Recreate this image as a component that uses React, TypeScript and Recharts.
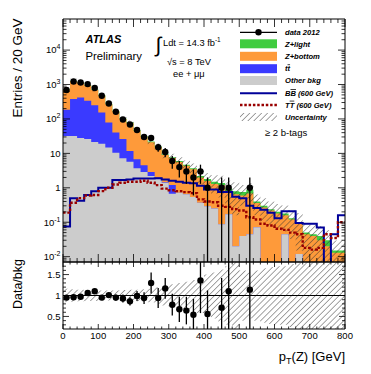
import React from 'react'
import { ComposedChart, Area, Line, Scatter, ErrorBar, XAxis, YAxis, ReferenceLine } from 'recharts'

const FONT = '"Liberation Sans", Arial, Helvetica, sans-serif'

// 20 GeV bins, low edges
const binLow = [0, 20, 40, 60, 80, 100, 120, 140, 160, 180, 200, 220, 240, 260, 280, 300, 320, 340, 360, 380,
    400, 420, 440, 460, 480, 500, 520, 540, 560, 580, 600, 620, 640, 660, 680, 700, 720, 740, 760, 780]

// backgrounds (stack order bottom -> top)
const otherBkg = [32, 32, 28, 26, 21.5, 19, 14.7, 10.4, 7.2, 5.7, 3.7, 2.9, 2.2, 1.8, 1.4, 0.67, 0.72, 0.65, 0.54, 0.37,
    0.29, 0.25, 0.087, 0.17, 0.02, 0.04, 0.045, 0.071, 0, 0, 0, 0.045, 0, 0.012, 0, 0, 0, 0, 0, 0]
const ttbar = [153, 348, 392, 314, 228, 135, 64, 30, 19, 6, 3, 1.6, 0.7, 0.2, 0.05, 0.53, 0, 0, 0, 0,
    0, 0, 0, 0, 0, 0, 0, 0, 0, 0, 0, 0, 0, 0, 0, 0, 0, 0, 0, 0]
const zBottom = [518, 855, 725, 595, 445, 323, 188, 124, 73, 65, 39, 26, 18.1, 13.2, 7.5, 6.1, 4.9, 3.75, 2.9, 1.63,
    1.3, 1.05, 1.1, 0.63, 0.63, 0.56, 0.64, 0.29, 0.27, 0.22, 0.18, 0.115, 0.12, 0.078, 0.045, 0.04, 0.03, 0.02, 0.013, 0.013]
const zLight = [25, 45, 40, 35, 25, 18, 10, 6, 4, 3, 2, 1.4, 1, 0.8, 0.5, 0.4, 0.35, 0.3, 0.25, 0.2,
    0.2, 0.2, 0.2, 0.15, 0.15, 0.15, 0.2, 0.04, 0.03, 0.02, 0.02, 0.02, 0.01, 0.01, 0.005, 0.005, 0.01, 0.01, 0.002, 0.002]
// relative syst. uncertainty (half width)
const relUnc = [0.16, 0.15, 0.14, 0.13, 0.13, 0.12, 0.12, 0.12, 0.13, 0.14, 0.14, 0.15, 0.16, 0.2, 0.24, 0.27, 0.3, 0.33, 0.37, 0.42,
    0.5, 0.55, 0.62, 0.7, 0.8, 0.6, 0.55, 0.6, 0.65, 0.68, 0.7, 0.7, 0.75, 0.85, 0.9, 0.9, 0.9, 0.95, 0.95, 0.95]

// signals
const bbSignal = [0.075, 0.5, 0.42, 0.62, 0.8, 1.0, 1.0, 1.7, 1.7, 1.75, 1.85, 1.85, 1.85, 1.9, 1.75, 1.6, 1.5, 1.4, 1.35, 1.15,
    0.9, 0.9, 0.75, 0.75, 0.55, 0.5, 0.3, 0.26, 0.23, 0.19, 0.13, 0.21, 0.21, 0.095, 0.09, 0.09, 0.07, 0, 0.045, 0.16]
const ttSignal = [0.19, 0.37, 0.5, 0.6, 0.62, 0.8, 1.0, 1.25, 1.4, 1.5, 1.5, 1.6, 1.4, 1.2, 0.95, 0.85, 0.8, 0.75, 0.7, 0.46,
    0.4, 0.38, 0.3, 0.28, 0.24, 0.22, 0.14, 0.12, 0.09, 0.08, 0.065, 0.06, 0.05, 0.045, 0.018, 0.016, 0.018, 0.045, 0.035, 0.1]

// data 2012
const dataCounts = [692, 1230, 1150, 1030, 790, 470, 280, 162, 96, 69, 48, 30, 28, 15, 11, 6, 4, 3, 2, 3,
    1, null, 1, 1, null, null, 1, null, null, null, null, null, null, null, null, null, null, null, null, null]
const dataErr = [26, 35, 34, 32, 28, 22, 17, 13, 10, 8.3, 6.9, 5.5, 5.3, 3.9, 3.3, 2.4, 2, 1.7, 1.4, 1.7,
    1, null, 1, 1, null, null, 1, null, null, null, null, null, null, null, null, null, null, null, null, null]
const ratioVals = [0.95, 0.96, 0.97, 1.06, 1.1, 0.95, 1.01, 0.95, 0.93, 0.86, 0.99, 0.94, 1.3, 0.94, 1.17, 0.78, 0.67, 0.64, 0.54, 1.36,
    0.56, null, 0.71, 1.1, null, null, 1.14, null, null, null, null, null, null, null, null, null, null, null, null, null]
const ratioErr = [0.04, 0.03, 0.03, 0.035, 0.04, 0.045, 0.06, 0.075, 0.095, 0.1, 0.12, 0.14, 0.25, 0.24, 0.25, 0.26, 0.3, 0.33, 0.38, 0.78,
    0.56, null, 0.71, 1.1, null, null, 1.14, null, null, null, null, null, null, null, null, null, null, null, null, null]

// axis ticks / labels
const xLabels = [0, 100, 200, 300, 400, 500, 600, 700, 800]
const logMajor = [0.01, 0.1, 1, 10, 100, 1000, 10000]
const logExp = ['-2', '-1', '', '', '2', '3', '4']
const ratioMajor = [0.5, 1, 1.5]
const ratioLabels = ['0.5', '1', '1.5']

const Y_MIN = 0.007
const Y_MAX = 80000
const R_MIN = 0.2
const R_MAX = 1.8
const TINY = 1e-5

const colors = {
    zlight: '#3fcc3f',
    zbottom: '#fe9a3a',
    ttbar: '#3a3aff',
    other: '#cccccc',
    bb: '#000099',
    tt: '#990000',
}

const pos = (v: number) => (v > TINY ? v : TINY)

const histRows = [...binLow, 800].map((x, k) => {
    const i = Math.min(k, binLow.length - 1)
    const gray = otherBkg[i]
    const blue = gray + ttbar[i]
    const orange = blue + zBottom[i]
    const green = orange + zLight[i]
    return {
        x,
        gray: pos(gray),
        blue: pos(blue),
        orange: pos(orange),
        green: pos(green),
        unc: [pos(green * (1 - relUnc[i])), green * (1 + relUnc[i])],
        band: [1 - relUnc[i], 1 + relUnc[i]],
        bb: pos(bbSignal[i]),
        tt: pos(ttSignal[i]),
    }
})

// error bars are cut at the frame edges (log axis cannot show 0)
const dataPts = binLow.flatMap((lo, i) => {
    const n = dataCounts[i]
    const e = dataErr[i]
    if (n == null || e == null) return []
    return [{ x: lo + 10, y: n, err: [Math.min(e, n - Y_MIN), e] }]
})

const ratioPts = binLow.flatMap((lo, i) => {
    const r = ratioVals[i]
    const e = ratioErr[i]
    if (r == null || e == null) return []
    return [{ x: lo + 10, y: r, err: [Math.min(e, r - R_MIN), Math.min(e, R_MAX - r)] }]
})

const xTicks: number[] = []
for (let v = 0; v <= 800; v += 20) xTicks.push(v)

const logTicks: number[] = []
for (let k = -3; k <= 4; k++) {
    for (let m = 1; m <= 9; m++) {
        const v = m * Math.pow(10, k)
        if (v > Y_MIN * 1.001 && v < Y_MAX * 0.999) logTicks.push(v)
    }
}

const ratioTicks: number[] = []
for (let k = 3; k <= 17; k++) ratioTicks.push(k / 10)

const isDecade = (v: number) => Math.abs(Math.log10(v) - Math.round(Math.log10(v))) < 1e-6
const isRatioMajor = (v: number) => ratioMajor.some(m => Math.abs(m - v) < 1e-6)

const tk = (x1: number, y1: number, x2: number, y2: number) => (
    <line x1={x1} y1={y1} x2={x2} y2={y2} stroke="#000" strokeWidth={0.8} />
)

function LogLeftTick(props: any) {
    const { x, y, payload } = props
    const v = payload.value
    const major = isDecade(v)
    const idx = logMajor.findIndex(m => Math.abs(Math.log10(m) - Math.log10(v)) < 1e-6)
    return (
        <g>
            {tk(x, y, x + (major ? 7 : 3.5), y)}
            {idx >= 0 && (
                <text x={x - 2.5} y={y + 3.3} textAnchor="end" fontFamily={FONT} fontSize={9.5} fill="#000">
                    {v === 1 ? '1' : '10'}
                    {logExp[idx] && <tspan dy={-4} fontSize={7}>{logExp[idx]}</tspan>}
                </text>
            )}
        </g>
    )
}

function LogRightTick(props: any) {
    const { x, y, payload } = props
    const major = isDecade(payload.value)
    return <g>{tk(x, y, x - (major ? 7 : 3.5), y)}</g>
}

function MainBottomTick(props: any) {
    const { x, y, payload } = props
    const major = payload.value % 100 === 0
    return <g>{tk(x, y, x, y - (major ? 8 : 4))}</g>
}

function MainTopTick(props: any) {
    const { x, y, payload } = props
    const major = payload.value % 100 === 0
    return <g>{tk(x, y, x, y + (major ? 8 : 4))}</g>
}

function RatioBottomTick(props: any) {
    const { x, y, payload } = props
    const major = payload.value % 100 === 0
    const lab = xLabels.includes(payload.value)
    return (
        <g>
            {tk(x, y, x, y - (major ? 5 : 2.5))}
            {lab && (
                <text x={x} y={y + 10} textAnchor="middle" fontFamily={FONT} fontSize={9.5} fill="#000">
                    {payload.value}
                </text>
            )}
        </g>
    )
}

function RatioTopTick(props: any) {
    const { x, y, payload } = props
    const major = payload.value % 100 === 0
    return <g>{tk(x, y, x, y + (major ? 5 : 2.5))}</g>
}

function RatioLeftTick(props: any) {
    const { x, y, payload } = props
    const v = payload.value
    const major = isRatioMajor(v)
    const idx = ratioMajor.findIndex(m => Math.abs(m - v) < 1e-6)
    return (
        <g>
            {tk(x, y, x + (major ? 6 : 3), y)}
            {idx >= 0 && (
                <text x={x - 2.5} y={y + 3.3} textAnchor="end" fontFamily={FONT} fontSize={9.5} fill="#000">
                    {ratioLabels[idx]}
                </text>
            )}
        </g>
    )
}

function RatioRightTick(props: any) {
    const { x, y, payload } = props
    const major = isRatioMajor(payload.value)
    return <g>{tk(x, y, x - (major ? 6 : 3), y)}</g>
}

const dot = (p: any) => <circle cx={p.cx} cy={p.cy} r={3.2} fill="#000" />

const axisLine = { stroke: '#000', strokeWidth: 1 }

function MainPanel() {
    return (
        <ComposedChart width={371} height={264} data={histRows} margin={{ top: 18, right: 25, bottom: 1, left: 62 }}>
            <XAxis type="number" dataKey="x" domain={[0, 800]} allowDataOverflow ticks={xTicks} interval={0}
                height={1} tickSize={0} tickMargin={0} tickLine={false} axisLine={axisLine} tick={MainBottomTick} />
            <XAxis xAxisId="top" orientation="top" type="number" dataKey="x" domain={[0, 800]} allowDataOverflow ticks={xTicks}
                interval={0} height={1} tickSize={0} tickMargin={0} tickLine={false} axisLine={axisLine} tick={MainTopTick} />
            <YAxis type="number" scale="log" domain={[Y_MIN, Y_MAX]} allowDataOverflow ticks={logTicks} interval={0}
                width={1} tickSize={0} tickMargin={0} tickLine={false} axisLine={axisLine} tick={LogLeftTick} />
            <YAxis yAxisId="right" orientation="right" type="number" scale="log" domain={[Y_MIN, Y_MAX]} allowDataOverflow
                ticks={logTicks} interval={0} width={1} tickSize={0} tickMargin={0} tickLine={false} axisLine={axisLine}
                tick={LogRightTick} />

            <Area type="stepAfter" dataKey="green" fill={colors.zlight} fillOpacity={1} stroke="none" baseValue={Y_MIN} isAnimationActive={false} />
            <Area type="stepAfter" dataKey="orange" fill={colors.zbottom} fillOpacity={1} stroke="none" baseValue={Y_MIN} isAnimationActive={false} />
            <Area type="stepAfter" dataKey="blue" fill={colors.ttbar} fillOpacity={1} stroke="none" baseValue={Y_MIN} isAnimationActive={false} />
            <Area type="stepAfter" dataKey="gray" fill={colors.other} fillOpacity={1} stroke="none" baseValue={Y_MIN} isAnimationActive={false} />
            <Area type="stepAfter" dataKey="unc" fill="url(#hatch)" fillOpacity={1} stroke="none" isAnimationActive={false} />

            <Line type="stepAfter" dataKey="bb" stroke={colors.bb} strokeWidth={2} dot={false} activeDot={false} isAnimationActive={false} />
            <Line type="stepAfter" dataKey="tt" stroke={colors.tt} strokeWidth={2.4} strokeDasharray="2.5 1.8" dot={false} activeDot={false} isAnimationActive={false} />

            <Scatter data={dataPts} dataKey="y" shape={dot} isAnimationActive={false}>
                <ErrorBar dataKey="err" direction="y" width={0} stroke="#000" strokeWidth={1.3} isAnimationActive={false} />
            </Scatter>
        </ComposedChart>
    )
}

function RatioPanel() {
    return (
        <ComposedChart width={371} height={114} data={histRows} margin={{ top: 1, right: 25, bottom: 44, left: 62 }}>
            <XAxis type="number" dataKey="x" domain={[0, 800]} allowDataOverflow ticks={xTicks} interval={0}
                height={1} tickSize={0} tickMargin={0} tickLine={false} axisLine={axisLine} tick={RatioBottomTick} />
            <XAxis xAxisId="top" orientation="top" type="number" dataKey="x" domain={[0, 800]} allowDataOverflow ticks={xTicks}
                interval={0} height={1} tickSize={0} tickMargin={0} tickLine={false} axisLine={axisLine} tick={RatioTopTick} />
            <YAxis type="number" domain={[R_MIN, R_MAX]} allowDataOverflow ticks={ratioTicks} interval={0}
                width={1} tickSize={0} tickMargin={0} tickLine={false} axisLine={axisLine} tick={RatioLeftTick} />
            <YAxis yAxisId="right" orientation="right" type="number" domain={[R_MIN, R_MAX]} allowDataOverflow
                ticks={ratioTicks} interval={0} width={1} tickSize={0} tickMargin={0} tickLine={false} axisLine={axisLine}
                tick={RatioRightTick} />

            <Area type="stepAfter" dataKey="band" fill="url(#hatch)" fillOpacity={1} stroke="none" isAnimationActive={false} />
            <ReferenceLine y={1} stroke="#000" strokeWidth={1} />

            <Scatter data={ratioPts} dataKey="y" shape={dot} isAnimationActive={false}>
                <ErrorBar dataKey="err" direction="y" width={0} stroke="#000" strokeWidth={1.3} isAnimationActive={false} />
            </Scatter>
        </ComposedChart>
    )
}

function Overlay() {
    const lx = 240
    const lw = 37
    const tx = 285
    const legText = { fontFamily: FONT, fontSize: 7.6, fontWeight: 700, fontStyle: 'italic' as const, fill: '#000' }
    const box = (cy: number, fill: string) => <rect x={lx} y={cy - 4.5} width={lw} height={9} fill={fill} />
    return (
        <svg width={371} height={374} style={{ position: 'absolute', left: 0, top: 0, pointerEvents: 'none' }}>
            {/* axis titles */}
            <text transform="translate(21.5,18.5) rotate(-90)" textAnchor="end" fontFamily={FONT} fontSize={13.5}>Entries / 20 GeV</text>
            <text transform="translate(21.5,259) rotate(-90)" textAnchor="end" fontFamily={FONT} fontSize={12.5}>Data/bkg</text>
            <text x={345} y={361} textAnchor="end" fontFamily={FONT} fontSize={13}>
                p<tspan fontSize={9} dy={3}>T</tspan><tspan dy={-3}>(Z) [GeV]</tspan>
            </text>

            {/* labels */}
            <text x={85.5} y={43} fontFamily={FONT} fontSize={11} fontWeight={700} fontStyle="italic">ATLAS</text>
            <text x={85.5} y={60} fontFamily={FONT} fontSize={11.3}>Preliminary</text>
            <text x={155.5} y={51.5} fontFamily={FONT} fontSize={21}>∫</text>
            <text x={163} y={46} fontFamily={FONT} fontSize={9.3}>
                Ldt = 14.3 fb<tspan dy={-4} fontSize={6.5}>-1</tspan>
            </text>
            <text x={167} y={65} fontFamily={FONT} fontSize={9.3}>√s = 8 TeV</text>
            <text x={173} y={77} fontFamily={FONT} fontSize={9.3}>ee + μμ</text>
            <text x={265} y={135.5} fontFamily={FONT} fontSize={9.5}>≥ 2 b-tags</text>

            {/* legend */}
            <line x1={lx} y1={32.3} x2={lx + lw} y2={32.3} stroke="#000" strokeWidth={1.3} />
            <circle cx={lx + lw / 2} cy={32.3} r={3.2} fill="#000" />
            <text x={tx} y={35} {...legText}>data 2012</text>
            {box(43.8, colors.zlight)}
            <text x={tx} y={46.5} {...legText}>Z+light</text>
            {box(56.3, colors.zbottom)}
            <text x={tx} y={59} {...legText}>Z+bottom</text>
            {box(68.7, colors.ttbar)}
            <text x={tx} y={71.4} {...legText}>t<tspan textDecoration="overline">t</tspan></text>
            {box(80.5, colors.other)}
            <text x={tx} y={83.2} {...legText}>Other bkg</text>
            <line x1={lx} y1={93.3} x2={lx + lw} y2={93.3} stroke={colors.bb} strokeWidth={2} />
            <text x={tx} y={96} {...legText}>B<tspan textDecoration="overline">B</tspan> (600 GeV)</text>
            <line x1={lx} y1={105} x2={lx + lw} y2={105} stroke={colors.tt} strokeWidth={2.4} strokeDasharray="2.5 1.8" />
            <text x={tx} y={107.7} {...legText}>T<tspan textDecoration="overline">T</tspan> (600 GeV)</text>
            <rect x={lx} y={113} width={lw} height={8} fill="url(#hatch)" />
            <text x={tx} y={119.5} {...legText}>Uncertainty</text>
        </svg>
    )
}

export default function App() {
    return (
        <div style={{ position: 'absolute', left: 0, top: 0, width: 371, height: 374, background: '#fff' }}>
            <svg width={0} height={0} style={{ position: 'absolute' }}>
                <defs>
                    <pattern id="hatch" patternUnits="userSpaceOnUse" width={4.2} height={4.2} patternTransform="rotate(45)">
                        <line x1={0} y1={0} x2={0} y2={4.2} stroke="#333" strokeWidth={0.9} />
                    </pattern>
                </defs>
            </svg>
            <div style={{ position: 'absolute', left: 0, top: 0 }}>
                <MainPanel />
            </div>
            <div style={{ position: 'absolute', left: 0, top: 260 }}>
                <RatioPanel />
            </div>
            <Overlay />
        </div>
    )
}
